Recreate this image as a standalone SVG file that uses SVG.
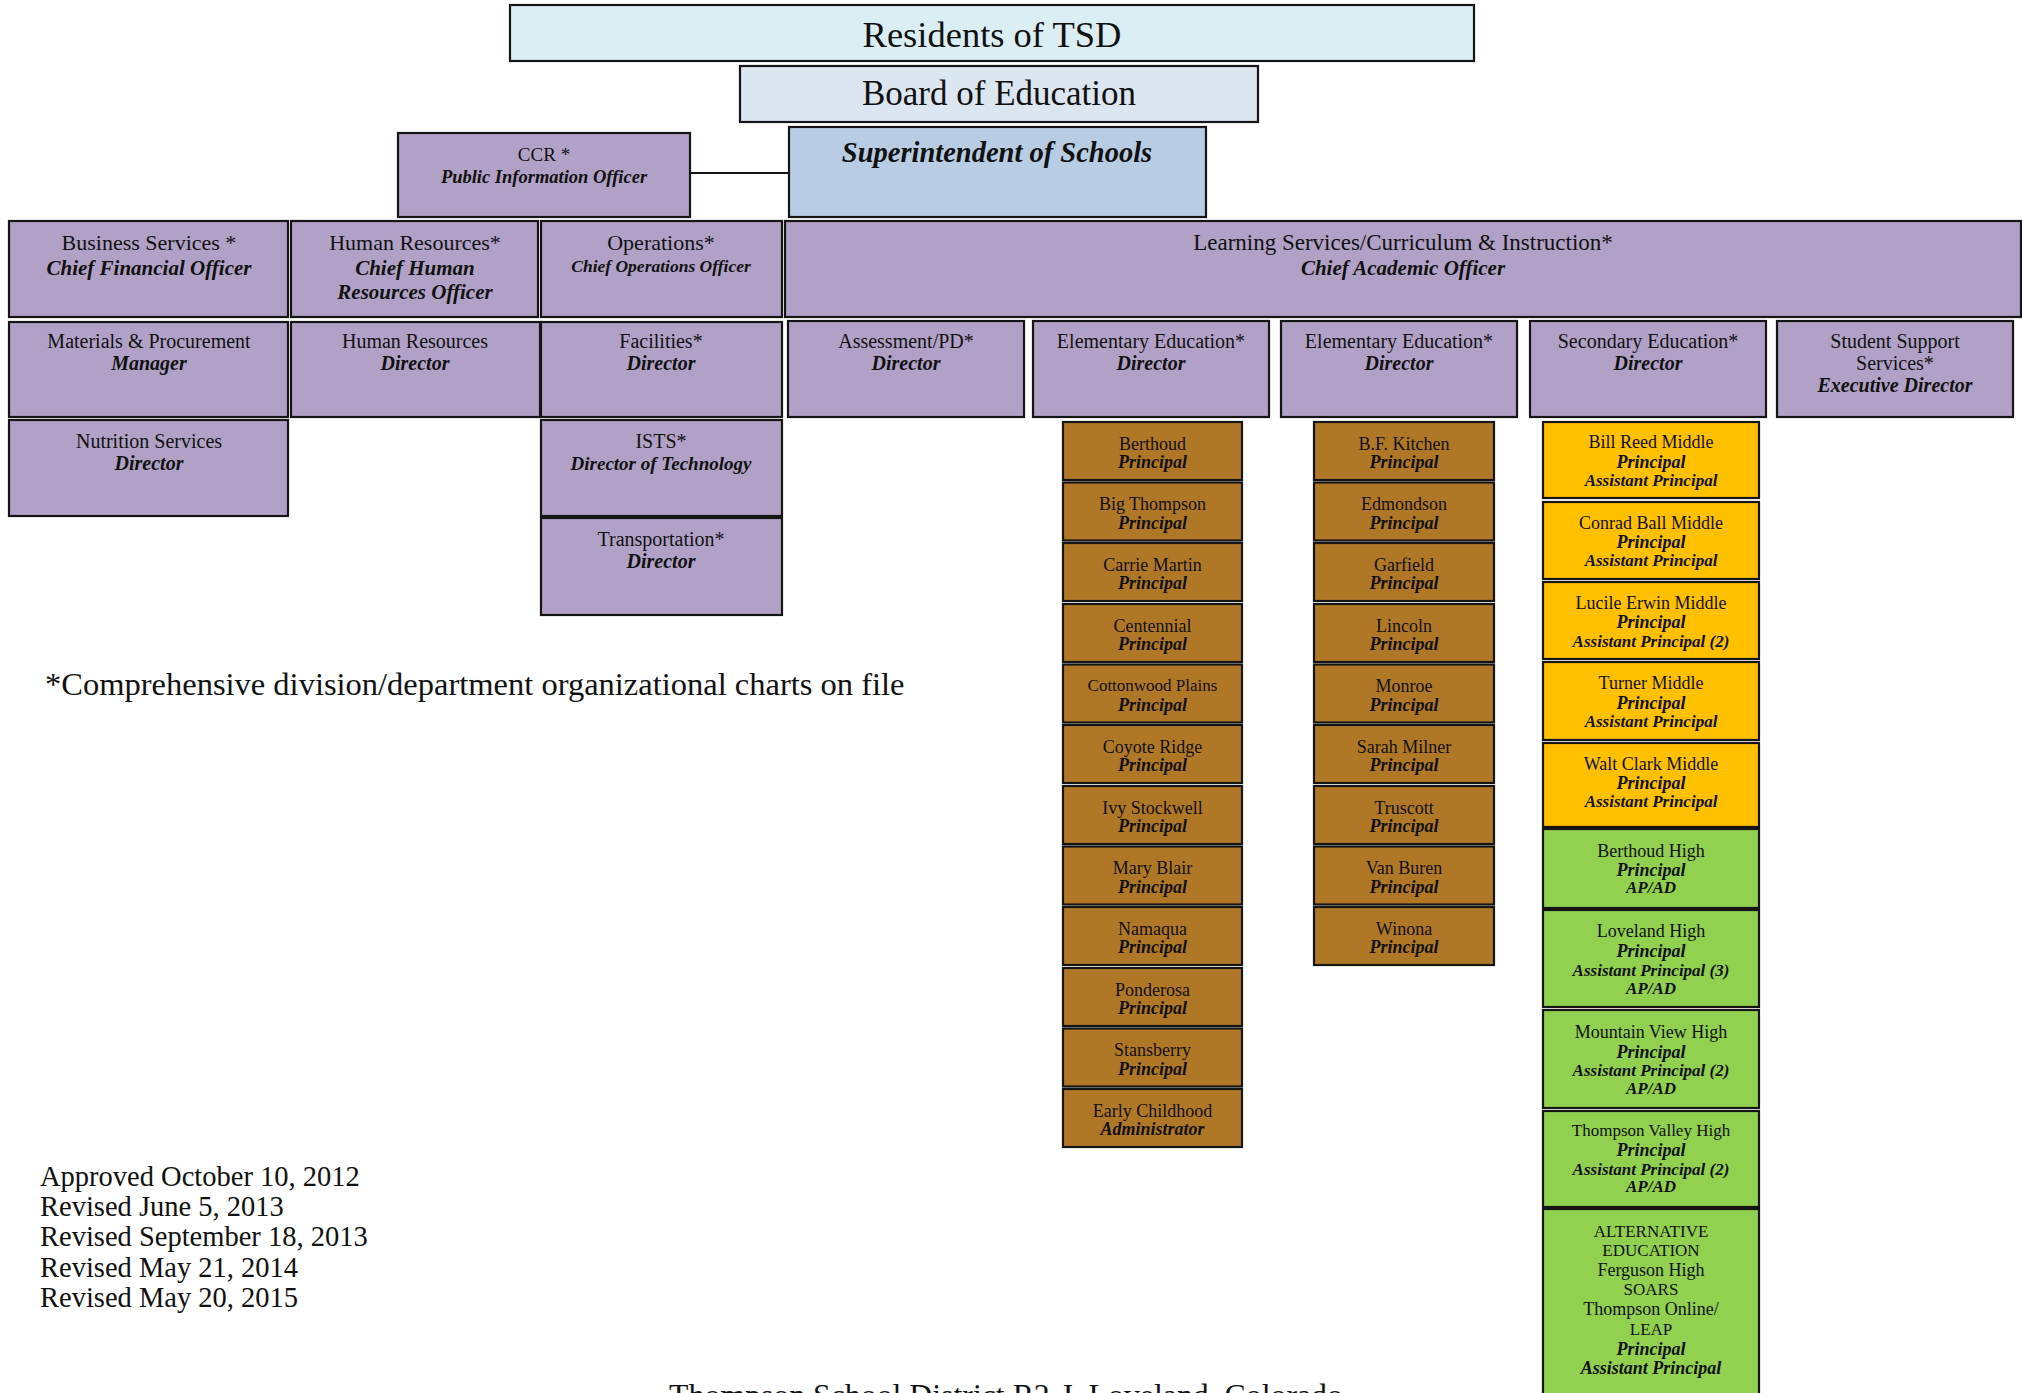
<svg xmlns="http://www.w3.org/2000/svg" width="2022" height="1393" viewBox="0 0 2022 1393">
<style>
text{font-family:"Liberation Serif","DejaVu Serif",serif;fill:#111;text-anchor:middle}
.r{font-style:italic;font-weight:bold}
.b{stroke:#151515;stroke-width:2.2}
.pu{fill:#B2A1C7}
.br{fill:#B07826}
.ye{fill:#FFC000}
.gr{fill:#92D050}
.f18{font-size:18px}.f17{font-size:17px}.f20{font-size:20px}.f22{font-size:22px}.f21{font-size:21px}
.l{text-anchor:start}
.d{font-size:28.5px}
</style>
<g id="connectors">
<line x1="690" y1="173" x2="789" y2="173" stroke="#151515" stroke-width="2"/>
</g>
<g id="residents"><rect class="b" x="510" y="5" width="964" height="56" fill="#DAEEF3"/><text x="992" y="47" style="font-size:36.5px">Residents of TSD</text></g>
<g id="board"><rect class="b" x="740" y="66" width="518" height="56" fill="#DCE6F1"/><text x="999" y="105" style="font-size:35px">Board of Education</text></g>
<g id="superintendent"><rect class="b" x="789" y="127" width="417" height="90" fill="#B8CCE4"/><text class="r" x="997" y="162" style="font-size:28.5px">Superintendent of Schools</text></g>
<g id="ccr"><rect class="b pu" x="398" y="133" width="292" height="84"/><text x="544" y="161" style="font-size:19px">CCR *</text><text class="r" x="544" y="183" style="font-size:18.5px">Public Information Officer</text></g>

<g id="business"><rect class="b pu" x="9" y="221" width="279" height="96"/><text class="f22" x="149" y="250">Business Services *</text><text class="r f21" x="149" y="275">Chief Financial Officer</text></g>
<g id="hr"><rect class="b pu" x="291" y="221" width="247" height="96"/><text class="f22" x="415" y="250">Human Resources*</text><text class="r f21" x="415" y="275">Chief Human</text><text class="r f21" x="415" y="299">Resources Officer</text></g>
<g id="operations"><rect class="b pu" x="541" y="221" width="241" height="96"/><text class="f22" x="661" y="250">Operations*</text><text class="r" x="661" y="272" style="font-size:17.5px">Chief Operations Officer</text></g>
<g id="learning"><rect class="b pu" x="785" y="221" width="1236" height="96"/><text x="1403" y="250" style="font-size:23px">Learning Services/Curriculum &amp; Instruction*</text><text class="r f21" x="1403" y="275">Chief Academic Officer</text></g>

<g id="materials"><rect class="b pu" x="9" y="322" width="279" height="95"/><text class="f20" x="149" y="348">Materials &amp; Procurement</text><text class="r f20" x="149" y="370">Manager</text></g>
<g id="hr-director"><rect class="b pu" x="291" y="322" width="249" height="95"/><text class="f20" x="415" y="348">Human Resources</text><text class="r f20" x="415" y="370">Director</text></g>
<g id="facilities"><rect class="b pu" x="541" y="322" width="241" height="95"/><text class="f20" x="661" y="348">Facilities*</text><text class="r f20" x="661" y="370">Director</text></g>
<g id="assessment"><rect class="b pu" x="788" y="321" width="236" height="96"/><text class="f20" x="906" y="348">Assessment/PD*</text><text class="r f20" x="906" y="370">Director</text></g>
<g id="elem1"><rect class="b pu" x="1033" y="321" width="236" height="96"/><text class="f20" x="1151" y="348">Elementary Education*</text><text class="r f20" x="1151" y="370">Director</text></g>
<g id="elem2"><rect class="b pu" x="1281" y="321" width="236" height="96"/><text class="f20" x="1399" y="348">Elementary Education*</text><text class="r f20" x="1399" y="370">Director</text></g>
<g id="secondary"><rect class="b pu" x="1530" y="321" width="236" height="96"/><text class="f20" x="1648" y="348">Secondary Education*</text><text class="r f20" x="1648" y="370">Director</text></g>
<g id="student-support"><rect class="b pu" x="1777" y="321" width="236" height="96"/><text class="f20" x="1895" y="348">Student Support</text><text class="f20" x="1895" y="370">Services*</text><text class="r f20" x="1895" y="392">Executive Director</text></g>

<g id="nutrition"><rect class="b pu" x="9" y="420" width="279" height="96"/><text class="f20" x="149" y="448">Nutrition Services</text><text class="r f20" x="149" y="470">Director</text></g>
<g id="ists"><rect class="b pu" x="541" y="420" width="241" height="96"/><text class="f20" x="661" y="448">ISTS*</text><text class="r" x="661" y="470" style="font-size:19px">Director of Technology</text></g>
<g id="transportation"><rect class="b pu" x="541" y="518" width="241" height="97"/><text class="f20" x="661" y="546">Transportation*</text><text class="r f20" x="661" y="568">Director</text></g>

<g id="berthoud"><rect class="b br" x="1063" y="422" width="179" height="58"/><text class="f18" x="1152.5" y="449.5">Berthoud</text><text class="r f18" x="1152.5" y="468">Principal</text></g>
<g id="big-thompson"><rect class="b br" x="1063" y="482.5" width="179" height="58"/><text class="f18" x="1152.5" y="510">Big Thompson</text><text class="r f18" x="1152.5" y="528.5">Principal</text></g>
<g id="carrie-martin"><rect class="b br" x="1063" y="543" width="179" height="58"/><text class="f18" x="1152.5" y="570.5">Carrie Martin</text><text class="r f18" x="1152.5" y="589">Principal</text></g>
<g id="centennial"><rect class="b br" x="1063" y="604" width="179" height="58"/><text class="f18" x="1152.5" y="631.5">Centennial</text><text class="r f18" x="1152.5" y="650">Principal</text></g>
<g id="cottonwood"><rect class="b br" x="1063" y="664.5" width="179" height="58"/><text class="f17" x="1152.5" y="690.5">Cottonwood Plains</text><text class="r f18" x="1152.5" y="710.5">Principal</text></g>
<g id="coyote"><rect class="b br" x="1063" y="725" width="179" height="58"/><text class="f18" x="1152.5" y="752.5">Coyote Ridge</text><text class="r f18" x="1152.5" y="771">Principal</text></g>
<g id="ivy"><rect class="b br" x="1063" y="786" width="179" height="58"/><text class="f18" x="1152.5" y="813.5">Ivy Stockwell</text><text class="r f18" x="1152.5" y="832">Principal</text></g>
<g id="mary-blair"><rect class="b br" x="1063" y="846.5" width="179" height="58"/><text class="f18" x="1152.5" y="874">Mary Blair</text><text class="r f18" x="1152.5" y="892.5">Principal</text></g>
<g id="namaqua"><rect class="b br" x="1063" y="907" width="179" height="58"/><text class="f18" x="1152.5" y="934.5">Namaqua</text><text class="r f18" x="1152.5" y="953">Principal</text></g>
<g id="ponderosa"><rect class="b br" x="1063" y="968" width="179" height="58"/><text class="f18" x="1152.5" y="995.5">Ponderosa</text><text class="r f18" x="1152.5" y="1014">Principal</text></g>
<g id="stansberry"><rect class="b br" x="1063" y="1028.5" width="179" height="58"/><text class="f18" x="1152.5" y="1056">Stansberry</text><text class="r f18" x="1152.5" y="1074.5">Principal</text></g>
<g id="early-childhood"><rect class="b br" x="1063" y="1089" width="179" height="58"/><text class="f18" x="1152.5" y="1116.5">Early Childhood</text><text class="r f18" x="1152.5" y="1135">Administrator</text></g>

<g id="bf-kitchen"><rect class="b br" x="1314" y="422" width="180" height="58"/><text class="f18" x="1404" y="449.5">B.F. Kitchen</text><text class="r f18" x="1404" y="468">Principal</text></g>
<g id="edmondson"><rect class="b br" x="1314" y="482.5" width="180" height="58"/><text class="f18" x="1404" y="510">Edmondson</text><text class="r f18" x="1404" y="528.5">Principal</text></g>
<g id="garfield"><rect class="b br" x="1314" y="543" width="180" height="58"/><text class="f18" x="1404" y="570.5">Garfield</text><text class="r f18" x="1404" y="589">Principal</text></g>
<g id="lincoln"><rect class="b br" x="1314" y="604" width="180" height="58"/><text class="f18" x="1404" y="631.5">Lincoln</text><text class="r f18" x="1404" y="650">Principal</text></g>
<g id="monroe"><rect class="b br" x="1314" y="664.5" width="180" height="58"/><text class="f18" x="1404" y="692">Monroe</text><text class="r f18" x="1404" y="710.5">Principal</text></g>
<g id="sarah-milner"><rect class="b br" x="1314" y="725" width="180" height="58"/><text class="f18" x="1404" y="752.5">Sarah Milner</text><text class="r f18" x="1404" y="771">Principal</text></g>
<g id="truscott"><rect class="b br" x="1314" y="786" width="180" height="58"/><text class="f18" x="1404" y="813.5">Truscott</text><text class="r f18" x="1404" y="832">Principal</text></g>
<g id="van-buren"><rect class="b br" x="1314" y="846.5" width="180" height="58"/><text class="f18" x="1404" y="874">Van Buren</text><text class="r f18" x="1404" y="892.5">Principal</text></g>
<g id="winona"><rect class="b br" x="1314" y="907" width="180" height="58"/><text class="f18" x="1404" y="934.5">Winona</text><text class="r f18" x="1404" y="953">Principal</text></g>

<g id="bill-reed"><rect class="b ye" x="1543" y="422" width="216" height="76"/><text class="f18" x="1651" y="448">Bill Reed Middle</text><text class="r f18" x="1651" y="467.5">Principal</text><text class="r f17" x="1651" y="486">Assistant Principal</text></g>
<g id="conrad-ball"><rect class="b ye" x="1543" y="502" width="216" height="77"/><text class="f18" x="1651" y="528.5">Conrad Ball Middle</text><text class="r f18" x="1651" y="547.5">Principal</text><text class="r f17" x="1651" y="566">Assistant Principal</text></g>
<g id="lucile-erwin"><rect class="b ye" x="1543" y="582" width="216" height="77"/><text class="f18" x="1651" y="609">Lucile Erwin Middle</text><text class="r f18" x="1651" y="628">Principal</text><text class="r f17" x="1651" y="646.5">Assistant Principal (2)</text></g>
<g id="turner"><rect class="b ye" x="1543" y="662" width="216" height="78"/><text class="f18" x="1651" y="689">Turner Middle</text><text class="r f18" x="1651" y="708.5">Principal</text><text class="r f17" x="1651" y="727">Assistant Principal</text></g>
<g id="walt-clark"><rect class="b ye" x="1543" y="743" width="216" height="84"/><text class="f18" x="1651" y="770">Walt Clark Middle</text><text class="r f18" x="1651" y="788.5">Principal</text><text class="r f17" x="1651" y="807">Assistant Principal</text></g>

<g id="berthoud-high"><rect class="b gr" x="1543" y="829" width="216" height="79"/><text class="f18" x="1651" y="856.5">Berthoud High</text><text class="r f18" x="1651" y="876">Principal</text><text class="r f17" x="1651" y="893">AP/AD</text></g>
<g id="loveland-high"><rect class="b gr" x="1543" y="910" width="216" height="97"/><text class="f18" x="1651" y="937">Loveland High</text><text class="r f18" x="1651" y="957">Principal</text><text class="r f17" x="1651" y="975.5">Assistant Principal (3)</text><text class="r f17" x="1651" y="993.5">AP/AD</text></g>
<g id="mountain-view-high"><rect class="b gr" x="1543" y="1010" width="216" height="98"/><text class="f18" x="1651" y="1037.5">Mountain View High</text><text class="r f18" x="1651" y="1057.5">Principal</text><text class="r f17" x="1651" y="1076">Assistant Principal (2)</text><text class="r f17" x="1651" y="1093.5">AP/AD</text></g>
<g id="thompson-valley-high"><rect class="b gr" x="1543" y="1111" width="216" height="96"/><text class="f17" x="1651" y="1136">Thompson Valley High</text><text class="r f18" x="1651" y="1156">Principal</text><text class="r f17" x="1651" y="1174.5">Assistant Principal (2)</text><text class="r f17" x="1651" y="1192">AP/AD</text></g>
<g id="alternative"><rect class="b gr" x="1543" y="1209" width="216" height="200"/><text class="f17" x="1651" y="1236.5">ALTERNATIVE</text><text class="f17" x="1651" y="1256">EDUCATION</text><text class="f18" x="1651" y="1276">Ferguson High</text><text class="f17" x="1651" y="1295">SOARS</text><text class="f18" x="1651" y="1315">Thompson Online/</text><text class="f17" x="1651" y="1334.5">LEAP</text><text class="r f18" x="1651" y="1355">Principal</text><text class="r f18" x="1651" y="1373.5">Assistant Principal</text></g>

<g id="notes">
<text class="l" x="45" y="695" style="font-size:32.5px">*Comprehensive division/department organizational charts on file</text>
<text class="l d" x="40" y="1186">Approved October 10, 2012</text>
<text class="l d" x="40" y="1216">Revised June 5, 2013</text>
<text class="l d" x="40" y="1246">Revised September 18, 2013</text>
<text class="l d" x="40" y="1277">Revised May 21, 2014</text>
<text class="l d" x="40" y="1307">Revised May 20, 2015</text>
<text x="1006" y="1406" style="font-size:31.8px">Thompson School District R2-J, Loveland, Colorado</text>
</g>
</svg>
